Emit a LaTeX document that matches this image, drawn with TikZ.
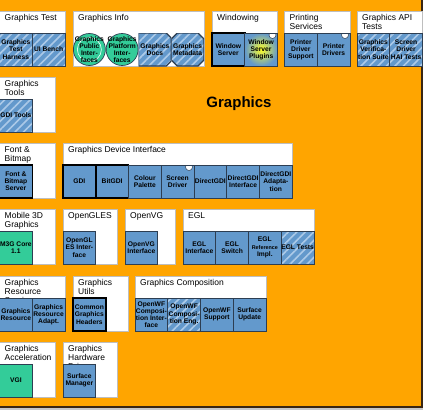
\documentclass[tikz,border=0pt]{standalone}
\usepackage{fontspec}
\setmainfont{Liberation Sans}
\usetikzlibrary{positioning,patterns.meta}

\definecolor{bgorange}{RGB}{255,165,0}
\definecolor{compblue}{RGB}{99,153,204}
\definecolor{compgreen}{RGB}{51,204,153}
\definecolor{stripe}{RGB}{172,202,232}
\definecolor{grpline}{RGB}{190,190,190}
\definecolor{compline}{RGB}{45,62,82}

\begin{document}
\begin{tikzpicture}[x=1pt,y=-1pt,
    grp/.style={draw=grpline, fill=white, line width=0.8pt, anchor=north west,
      minimum height=55pt, inner sep=0pt, outer sep=0pt},
    grptitle/.style={anchor=north west, align=left, inner sep=0pt,
      font=\fontsize{8.5}{9}\selectfont},
    compbase/.style={draw=compline, line width=0.7pt, minimum width=32.75pt,
      minimum height=33pt, inner sep=0pt, outer sep=0pt, align=center,
      font=\fontsize{6.7}{7.2}\selectfont\bfseries},
    comp/.style={compbase, fill=compblue},
    keycomp/.style={comp, draw=black, line width=1.5pt},
    greencomp/.style={comp, fill=compgreen},
    stripefill/.style={preaction={fill=compblue},
      pattern={Lines[angle=45,distance=6pt,line width=1.6pt]}, pattern color=stripe},
    striped/.style={compbase, stripefill},
    circcomp/.style={compbase, draw=none, path picture={
      \draw[fill=compgreen, draw=compline, line width=0.7pt]
        (path picture bounding box.center) circle (16pt);}},
    ringcomp/.style={compbase, draw=none, path picture={
      \draw[fill=compgreen, draw=compline, line width=0.7pt]
        (path picture bounding box.center) circle (16pt);
      \draw[white, line width=0.6pt] (path picture bounding box.center) circle (12pt);}},
    octcomp/.style={compbase, draw=none, path picture={
      \coordinate (pnw) at (path picture bounding box.north west);
      \coordinate (pse) at (path picture bounding box.south east);
      \path[stripefill, draw=compline, line width=1.4pt]
        ([xshift=6pt]pnw) -- ([xshift=-6pt]pnw -| pse) -- ([yshift=-6pt]pnw -| pse)
        -- ([yshift=6pt]pse) -- ([xshift=-6pt]pse) -- ([xshift=6pt]pse -| pnw)
        -- ([yshift=6pt]pse -| pnw) -- ([yshift=-6pt]pnw) -- cycle;}},
    doccomp/.style={compbase, draw=none, path picture={
      \coordinate (pnw) at (path picture bounding box.north west);
      \coordinate (pse) at (path picture bounding box.south east);
      \path[stripefill, draw=compline, line width=1.4pt]
        (pnw) -- ([xshift=-5pt]pnw -| pse) -- ([yshift=-5pt]pnw -| pse)
        -- ([yshift=5pt]pse) -- ([xshift=-5pt]pse) -- (pse -| pnw) -- cycle;}},
    notch/.style={path picture={\draw[fill=white, draw=compline, line width=0.5pt]
      ([shift={(-5,2)}]path picture bounding box.north east) circle (3.5pt);}},
    glow/.style={comp, inner color=yellow!85!white, outer color=compblue}]

    \useasboundingbox (0,0) rectangle (423,410);
    \fill[black!22] (0,0) rectangle (423,410);
    \draw[fill=bgorange, draw=black!70!brown, line width=1.5pt] (-5,-5) rectangle (421.8,406.8);

    \node [font=\fontsize{15}{18}\selectfont\bfseries] (title) at (239,104) {Graphics};

    \node [grp, minimum width=65.5pt] (gtest) at (-0.5,11) {};
    \node [grptitle] at ([shift={(5,3)}]gtest.north west) {Graphics Test};
    \node [striped, anchor=south west] (harness) at (gtest.south west) {Graphics\\Test\\Harness};
    \node [striped, right=0pt of harness] (uibench) {UI Bench};

    \node [grp, minimum width=131pt] (ginfo) at (73,11) {};
    \node [grptitle] at ([shift={(5,3)}]ginfo.north west) {Graphics Info};
    \node [ringcomp, anchor=south west] (pubif) at (ginfo.south west) {Graphics\\Public\\Inter-\\faces};
    \node [circcomp, right=0pt of pubif] (platif) {Graphics\\Platform\\Inter-\\faces};
    \node [doccomp, right=0pt of platif] (docs) {Graphics\\Docs};
    \node [octcomp, right=0pt of docs] (metadata) {Graphics\\Metadata};

    \node [grp, minimum width=65.5pt] (windowing) at (212,11) {};
    \node [grptitle] at ([shift={(5,3)}]windowing.north west) {Windowing};
    \node [keycomp, anchor=south west] (wserv) at (windowing.south west) {Window\\Server};
    \node [glow, notch, right=0pt of wserv] (wplugins) {Window\\Server\\Plugins};

    \node [grp, minimum width=65.5pt] (printing) at (284.5,11) {};
    \node [grptitle] at ([shift={(5,3)}]printing.north west) {Printing\\Services};
    \node [comp, anchor=south west] (pdsupport) at (printing.south west) {Printer\\Driver\\Support};
    \node [comp, notch, right=0pt of pdsupport] (pdrivers) {Printer\\Drivers};

    \node [grp, minimum width=65.5pt] (apitests) at (357,11) {};
    \node [grptitle] at ([shift={(5,3)}]apitests.north west) {Graphics API\\Tests};
    \node [striped, anchor=south west] (verif) at (apitests.south west) {Graphics\\Verifica-\\tion Suite};
    \node [striped, right=0pt of verif] (haitests) {Screen\\Driver\\HAI Tests};

    \node [grp, minimum width=55.5pt] (gtools) at (-0.5,77) {};
    \node [grptitle] at ([shift={(5,3)}]gtools.north west) {Graphics\\Tools};
    \node [striped, anchor=south west] (gditools) at (gtools.south west) {GDI Tools};

    \node [grp, minimum width=55.5pt] (fbs) at (-0.5,143) {};
    \node [grptitle] at ([shift={(5,3)}]fbs.north west) {Font \&\\Bitmap\\Server};
    \node [keycomp, anchor=south west] (fbserv) at (fbs.south west) {Font \&\\Bitmap\\Server};

    \node [grp, minimum width=229.25pt] (gdi) at (63,143) {};
    \node [grptitle] at ([shift={(5,3)}]gdi.north west) {Graphics Device Interface};
    \node [keycomp, anchor=south west] (gdicomp) at (gdi.south west) {GDI};
    \node [keycomp, right=0pt of gdicomp] (bitgdi) {BitGDI};
    \node [comp, right=0pt of bitgdi] (palette) {Colour\\Palette};
    \node [comp, notch, right=0pt of palette] (scdv) {Screen\\Driver};
    \node [comp, right=0pt of scdv] (dgdi) {DirectGDI};
    \node [comp, right=0pt of dgdi] (dgdiif) {DirectGDI\\Interface};
    \node [comp, right=0pt of dgdiif] (dgdiad) {DirectGDI\\Adapta-\\tion};

    \node [grp, minimum width=55.5pt] (m3d) at (-0.5,209) {};
    \node [grptitle] at ([shift={(5,3)}]m3d.north west) {Mobile 3D\\Graphics};
    \node [greencomp, anchor=south west] (m3gcore) at (m3d.south west) {M3G Core\\1.1};

    \node [grp, minimum width=54.5pt] (opengles) at (63,209) {};
    \node [grptitle] at ([shift={(5,3)}]opengles.north west) {OpenGLES};
    \node [comp, anchor=south west] (glesif) at (opengles.south west) {OpenGL\\ES Inter-\\face};

    \node [grp, minimum width=50pt] (openvg) at (125,209) {};
    \node [grptitle] at ([shift={(5,3)}]openvg.north west) {OpenVG};
    \node [comp, anchor=south west] (vgif) at (openvg.south west) {OpenVG\\Interface};

    \node [grp, minimum width=131pt] (egl) at (183,209) {};
    \node [grptitle] at ([shift={(5,3)}]egl.north west) {EGL};
    \node [comp, anchor=south west] (eglif) at (egl.south west) {EGL\\Interface};
    \node [comp, right=0pt of eglif] (eglswitch) {EGL\\Switch};
    \node [comp, right=0pt of eglswitch] (eglref) {EGL\\{\fontsize{5.4}{7.2}\selectfont Reference}\\Impl.};
    \node [striped, right=0pt of eglref] (egltests) {EGL Tests};

    \node [grp, minimum width=65.5pt] (gres) at (-0.5,276) {};
    \node [grptitle] at ([shift={(5,3)}]gres.north west) {Graphics\\Resource\\Services};
    \node [comp, anchor=south west] (resource) at (gres.south west) {Graphics\\Resource};
    \node [comp, right=0pt of resource] (resadapt) {Graphics\\Resource\\Adapt.};

    \node [grp, minimum width=55pt] (gutils) at (73,276) {};
    \node [grptitle] at ([shift={(5,3)}]gutils.north west) {Graphics\\Utils};
    \node [keycomp, anchor=south west] (headers) at (gutils.south west) {Common\\Graphics\\Headers};

    \node [grp, minimum width=131pt] (gcomp) at (135,276) {};
    \node [grptitle] at ([shift={(5,3)}]gcomp.north west) {Graphics Composition};
    \node [comp, anchor=south west] (owfif) at (gcomp.south west) {OpenWF\\Composi-\\tion Inter-\\face};
    \node [striped, right=0pt of owfif] (owfeng) {OpenWF\\Composi-\\tion Eng.};
    \node [comp, right=0pt of owfeng] (owfsupport) {OpenWF\\Support};
    \node [comp, right=0pt of owfsupport] (surfupdate) {Surface\\Update};

    \node [grp, minimum width=55.5pt] (gaccel) at (-0.5,342) {};
    \node [grptitle] at ([shift={(5,3)}]gaccel.north west) {Graphics\\Acceleration};
    \node [greencomp, anchor=south west] (vgi) at (gaccel.south west) {VGI};

    \node [grp, minimum width=54.5pt] (ghw) at (63,342) {};
    \node [grptitle] at ([shift={(5,3)}]ghw.north west) {Graphics\\Hardware\\Drivers};
    \node [comp, anchor=south west] (surfmgr) at (ghw.south west) {Surface\\Manager};

\end{tikzpicture}
\end{document}
